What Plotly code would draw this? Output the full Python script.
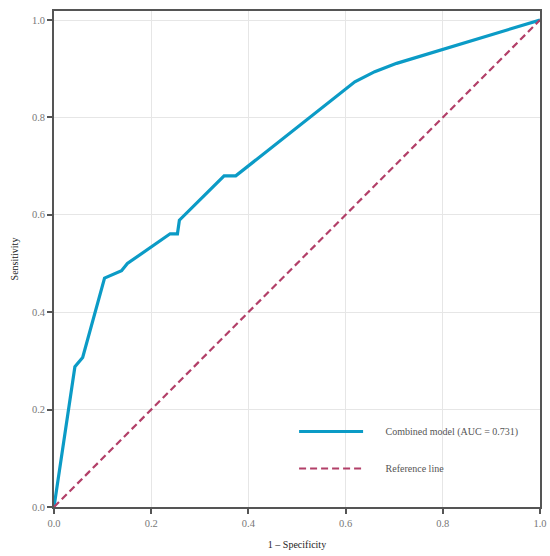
import plotly.graph_objects as go

fpr = [0.0, 0.043, 0.059, 0.104, 0.139, 0.151, 0.239, 0.254, 0.258, 0.350, 0.374, 0.619, 0.660, 0.705, 1.0]
tpr = [0.0, 0.288, 0.307, 0.470, 0.485, 0.500, 0.561, 0.561, 0.589, 0.680, 0.680, 0.873, 0.894, 0.911, 1.0]
ref_x = [0.0, 1.0]
ref_y = [0.0, 1.0]
tick_vals = [0.0, 0.2, 0.4, 0.6, 0.8, 1.0]
tick_text = ["0.0", "0.2", "0.4", "0.6", "0.8", "1.0"]

FONT = "Liberation Serif"
PAD = "\u00a0" * 7

fig = go.Figure()
fig.add_trace(go.Scatter(
    x=fpr, y=tpr, mode="lines", name=PAD + "Combined model (AUC = 0.731)",
    line=dict(color="#0b9bc6", width=3.2), legendgroup="a",
))
fig.add_trace(go.Scatter(
    x=ref_x, y=ref_y, mode="lines", name=PAD + "Reference line",
    line=dict(color="#b23f68", width=2.2, dash="7px,4px"), legendgroup="b",
))

axis_common = dict(
    tickvals=tick_vals, ticktext=tick_text,
    showgrid=True, gridcolor="#e6e6e6", gridwidth=1,
    zeroline=False, automargin=False,
    showline=True, linecolor="#555555", linewidth=1.8, mirror=True,
    ticks="outside", ticklen=5, tickwidth=1.5, tickcolor="#555555",
    tickfont=dict(family=FONT, size=10.5, color="#777777"),
)

fig.update_layout(
    width=550, height=556,
    margin=dict(l=54, r=10, t=11, b=49),
    paper_bgcolor="white", plot_bgcolor="white",
    font=dict(family=FONT, color="#222222"),
    xaxis=dict(range=[0, 1], title=dict(text="1 – Specificity", font=dict(family=FONT, size=10, color="#222222"), standoff=13), **axis_common),
    yaxis=dict(range=[0, 1.0185], title=dict(text="Sensitivity", font=dict(family=FONT, size=10, color="#222222"), standoff=11), **axis_common),
    legend=dict(
        x=0.494, y=0.1815, xanchor="left", yanchor="top",
        bgcolor="rgba(0,0,0,0)", borderwidth=0,
        font=dict(family=FONT, size=10, color="#555555"),
        itemwidth=64, tracegroupgap=18, traceorder="grouped",
    ),
    showlegend=True,
    hovermode=False,
)

fig.write_html(
    "out.html",
    config={"displayModeBar": False},
    post_script="document.body.style.margin='0';document.body.style.overflow='hidden';",
)
